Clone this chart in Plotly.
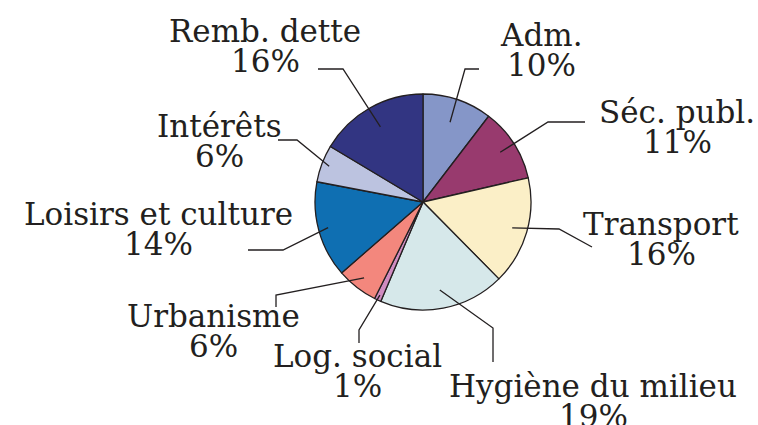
import math
import plotly.graph_objects as go

# ---- data ----
categories = ["Adm.", "Séc. publ.", "Transport", "Hygiène du milieu", "Log. social",
              "Urbanisme", "Loisirs et culture", "Intérêts", "Remb. dette"]
shares = [10.4, 11.0, 16.2, 18.8, 1.0, 6.2, 14.4, 5.6, 16.4]
colors = ["#8596c8", "#983a6e", "#fbefc7", "#d6e8ea", "#d08bc0",
          "#f3877d", "#0f6fb2", "#bcc3e0", "#323582"]

# ---- layout (pixels) ----
W, H = 758, 425
CX, CY, R = 423, 202, 108
INK = "#231f20"
FONT = "DejaVu Serif"
FS = 31
LINE_GAP = 30

# label centre x, name baseline y
label_pos = [(541, 46), (677, 123), (661, 235), (593, 397), (357, 367),
             (213, 327), (158, 225), (219, 137), (265, 42)]
# leader elbow and end points
leader_pts = [[(465, 69), (479, 69)],
              [(548, 122), (585, 122)],
              [(559, 229), (592, 247)],
              [(493, 328), (493, 362)],
              [(359, 330), (359, 343)],
              [(276, 295), (276, 307)],
              [(283, 250), (248, 250)],
              [(297, 140), (278, 140)],
              [(343, 69), (318, 69)]]
leader_r = [0.78, 0.85, 0.86, 0.83, 0.95, 0.89, 0.91, 0.93, 0.8]


def px(x):
    return x / W


def py(y):
    return 1 - y / H


fig = go.Figure(go.Pie(
    labels=categories, values=shares, sort=False, direction="clockwise", rotation=0,
    marker=dict(colors=colors, line=dict(color=INK, width=1.3)),
    textinfo="none", hoverinfo="label+percent", showlegend=False,
    domain=dict(x=[px(CX - R), px(CX + R)], y=[py(CY + R), py(CY - R)]),
))

total = sum(shares)
annotations = []
shapes = []
cum = 0.0
for i, (name, v) in enumerate(zip(categories, shares)):
    mid = (cum + v / 2) / total * 2 * math.pi
    cum += v
    sx = CX + leader_r[i] * R * math.sin(mid)
    sy = CY - leader_r[i] * R * math.cos(mid)
    pts = [(sx, sy)] + leader_pts[i]
    path = "M " + " L ".join(f"{px(a):.5f},{py(b):.5f}" for a, b in pts)
    shapes.append(dict(type="path", xref="paper", yref="paper", path=path,
                       line=dict(color=INK, width=1.3)))
    lx, ly = label_pos[i]
    pct = f"{round(v / total * 100)}%"
    for j, txt in enumerate([name, pct]):
        base = ly + j * LINE_GAP
        annotations.append(dict(
            x=px(lx), y=py(base - 0.36 * FS), xref="paper", yref="paper",
            text=txt, showarrow=False, xanchor="center", yanchor="middle",
            font=dict(family=FONT, size=FS, color=INK)))

fig.update_layout(
    width=W, height=H, margin=dict(l=0, r=0, t=0, b=0),
    paper_bgcolor="white", plot_bgcolor="white",
    annotations=annotations, shapes=shapes,
)
fig.write_html("out.html", config={"displayModeBar": False},
               post_script="document.body.style.margin='0';")
